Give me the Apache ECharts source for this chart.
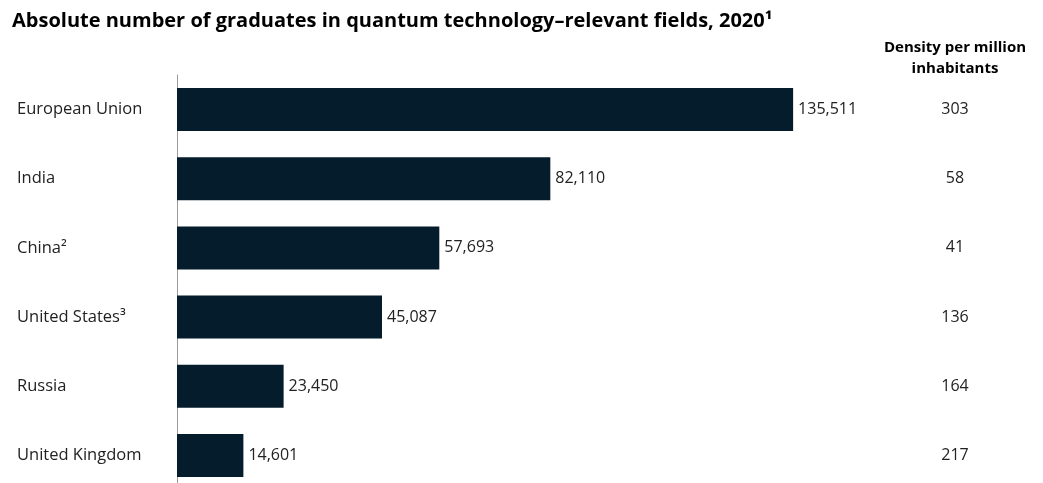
<!DOCTYPE html>
<html>
<head>
<meta charset="utf-8">
<script src="https://cdn.jsdelivr.net/npm/echarts@6/dist/echarts.min.js"></script>
<style>html,body{margin:0;padding:0;background:#fff}#c{width:1043px;height:483px}</style>
</head>
<body>
<div id="c"></div>
<script>
const categories = ["European Union", "India", "China²", "United States³", "Russia", "United Kingdom"];
const graduates = [135511, 82110, 57693, 45087, 23450, 14601];
const density = [303, 58, 41, 136, 164, 217];
const titleText = "Absolute number of graduates in quantum technology–relevant fields, 2020¹";
const densityHeader = "Density per million\ninhabitants";

const FONT = "'Open Sans', 'Liberation Sans', Arial, sans-serif";
const chart = echarts.init(document.getElementById('c'), null, {renderer: 'canvas'});
chart.setOption({
  animation: false,
  backgroundColor: '#fff',
  title: [
    {text: titleText, left: 7, top: 6, textStyle: {fontFamily: FONT, fontSize: 20, fontWeight: 'bold', color: '#000'}},
    {text: densityHeader, left: 950, top: 32, textAlign: 'center', textStyle: {fontFamily: FONT, fontSize: 15, fontWeight: 'bold', color: '#000', lineHeight: 21, align: 'center'}}
  ],
  grid: {left: 177, width: 682, top: 75, height: 415, outerBoundsMode: 'none', containLabel: false},
  xAxis: {type: 'value', min: 0, max: 150000, show: false},
  yAxis: [
    {type: 'category', data: categories, inverse: true, position: 'left',
     axisLine: {show: true, lineStyle: {color: '#9a9a9a', width: 1}},
     axisTick: {show: false},
     axisLabel: {align: 'left', margin: 160, fontFamily: FONT, fontSize: 16.5, color: '#222'}},
    {type: 'category', data: density.map(String), inverse: true, position: 'right',
     axisLine: {show: false}, axisTick: {show: false},
     axisLabel: {align: 'center', margin: 96, fontFamily: FONT, fontSize: 16, color: '#222'}}
  ],
  series: [{
    type: 'bar', data: graduates, barWidth: 43, yAxisIndex: 0,
    itemStyle: {color: '#051c2c'},
    label: {show: true, position: 'right', distance: 5, fontFamily: FONT, fontSize: 16, color: '#222',
      formatter: p => p.value.toLocaleString('en-US')}
  }]
});
</script>
</body>
</html>
